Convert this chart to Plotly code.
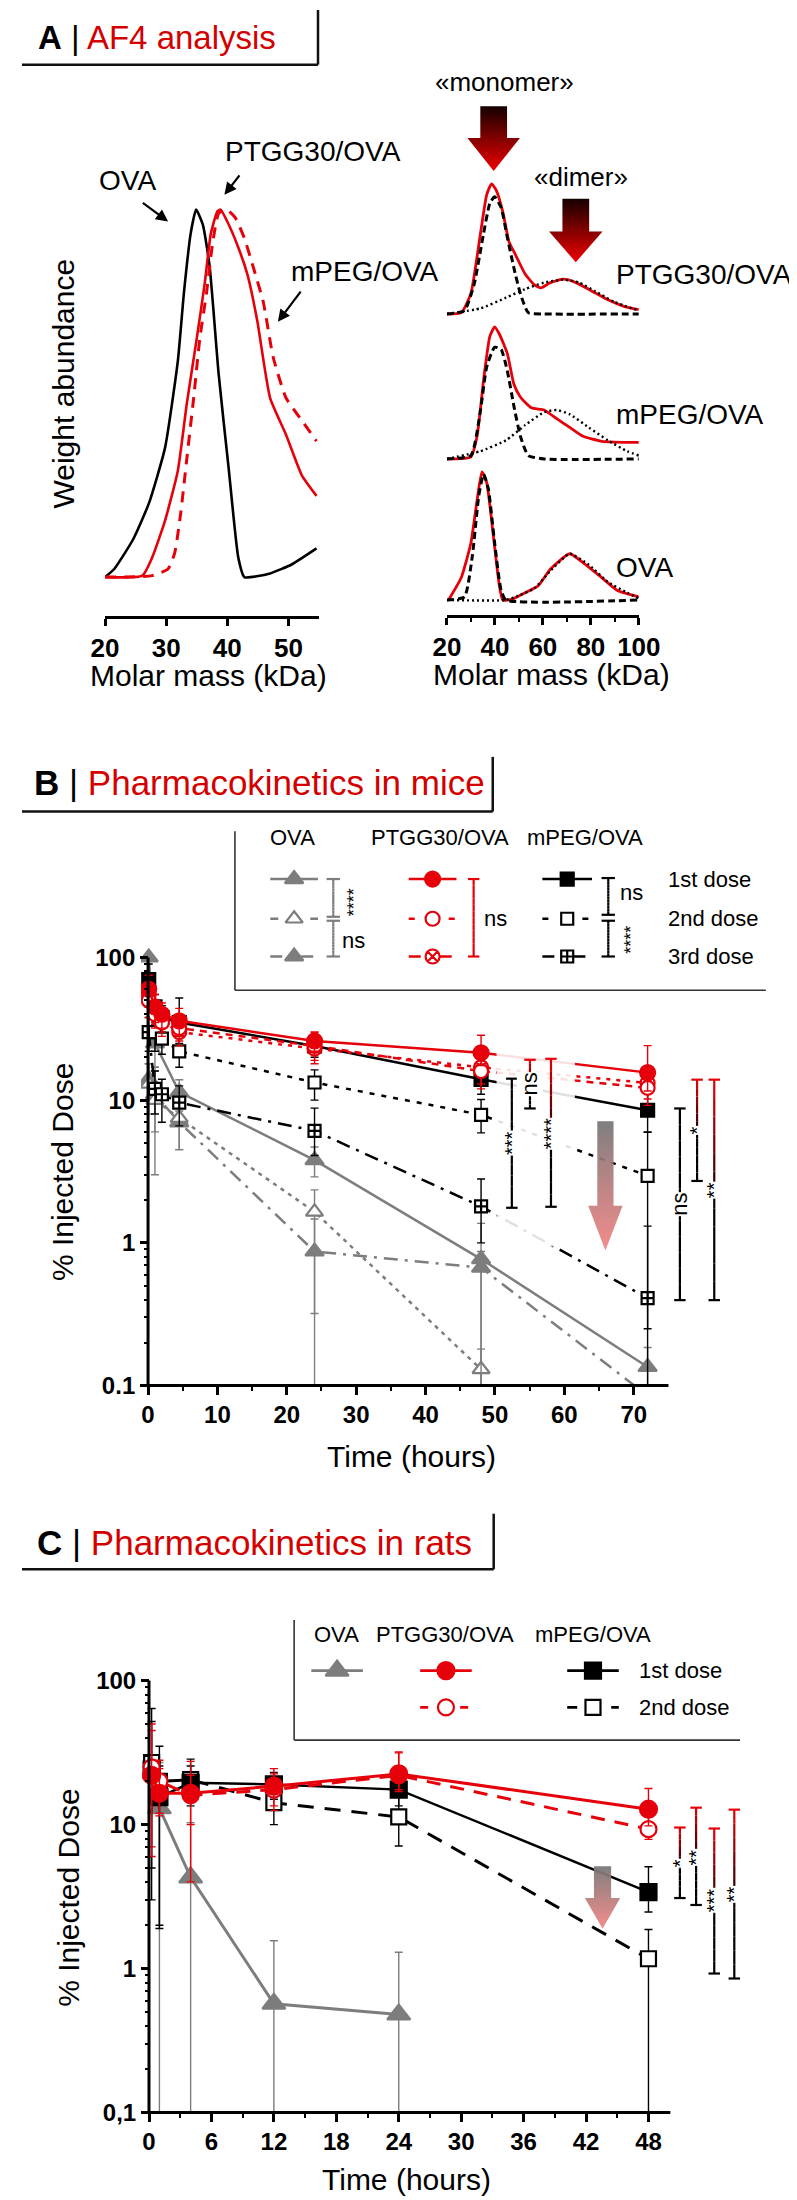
import plotly.graph_objects as go

W, H = 797, 2200
FONT = "Liberation Sans, Arial, Helvetica, sans-serif"
RED = "#e6000a"
TRED = "#d40000"
GRAY = "#7d7d7d"
BLK = "#000000"

# ---------------- Panel A (left): AF4 profiles, normalised weight abundance ----------------
a_ova_mass = [20, 21.5, 24.6, 27.2, 29.8, 31.9, 32.9, 34.0, 34.9, 36.0, 37.1, 38.6, 40.2, 41.8, 42.8, 47.0, 50.6, 54.6]
a_ova_w = [0, 0.022, 0.103, 0.202, 0.351, 0.587, 0.773, 0.934, 1.0, 0.959, 0.847, 0.55, 0.30, 0.053, 0.0, 0.01, 0.035, 0.078]
a_ptgg_mass = [20, 26.1, 27.7, 29.8, 31.9, 33.4, 35.0, 36.3, 37.3, 38.4, 38.9, 39.9, 41.8, 43.3, 44.9, 47.0, 49.6, 52.2, 54.6]
a_ptgg_w = [0, 0.004, 0.053, 0.153, 0.289, 0.475, 0.649, 0.798, 0.934, 0.996, 1.0, 0.971, 0.897, 0.823, 0.698, 0.488, 0.388, 0.277, 0.221]
a_mpeg_mass = [20, 27.7, 30.3, 31.4, 32.4, 33.4, 34.5, 35.5, 36.6, 37.6, 38.6, 39.9, 41.3, 42.8, 44.4, 45.9, 47.5, 49.6, 52.2, 54.6]
a_mpeg_w = [0, 0.004, 0.022, 0.066, 0.177, 0.326, 0.488, 0.649, 0.773, 0.909, 0.99, 1.0, 0.978, 0.922, 0.835, 0.748, 0.599, 0.488, 0.426, 0.370]

# ---------------- Panel A (right): measured profile + monomer / dimer fits ----------------
ap_red_x = [20, 26, 30, 34, 36.6, 38.6, 40.6, 43.3, 45.9, 48.6, 52.6, 56.5, 59.2, 63.2, 68.5, 73.8, 80.5, 87.1, 93.8, 100]
ap_red_y = [0, 0.01, 0.158, 0.62, 0.917, 1.0, 0.95, 0.785, 0.554, 0.455, 0.307, 0.224, 0.201, 0.241, 0.267, 0.241, 0.175, 0.109, 0.059, 0.033]
ap_mono_x = [20, 27.3, 31.3, 35.3, 37.9, 39.9, 42.6, 45.2, 47.9, 50.6, 53.9, 60.5, 100]
ap_mono_y = [0, 0.026, 0.224, 0.62, 0.851, 0.90, 0.818, 0.587, 0.356, 0.158, 0.01, 0, 0]
ap_dim_x = [20, 34, 44.6, 52.6, 60.5, 68.5, 75.1, 81.8, 89.8, 100]
ap_dim_y = [0, 0.043, 0.125, 0.191, 0.241, 0.264, 0.241, 0.175, 0.092, 0.026]

am_red_x = [20, 30, 32.6, 35.3, 37.9, 39.9, 41.9, 45.2, 47.9, 50.6, 55.2, 60.5, 65.8, 71.2, 76.5, 84.5, 100]
am_red_y = [0, 0.016, 0.174, 0.6, 0.928, 1.0, 0.944, 0.797, 0.567, 0.469, 0.387, 0.371, 0.305, 0.239, 0.174, 0.134, 0.125]
am_mono_x = [20, 30, 34, 36.6, 39.9, 42.6, 45.2, 47.9, 50.6, 53.9, 60.5, 100]
am_mono_y = [0, 0.026, 0.37, 0.698, 0.846, 0.829, 0.665, 0.403, 0.174, 0.026, 0, 0]
am_dim_x = [20, 34, 44.6, 52.6, 60.5, 65.8, 71.2, 79.1, 87.1, 95.1, 100]
am_dim_y = [0, 0.059, 0.141, 0.256, 0.354, 0.371, 0.338, 0.239, 0.141, 0.059, 0.026]

ao_red_x = [20.7, 26, 30, 32.6, 34.6, 36.6, 39.3, 41.9, 43.3, 47.2, 52.6, 57.9, 63.2, 71.2, 77.8, 84.5, 91.1, 100]
ao_red_y = [0, 0.175, 0.445, 0.781, 1.0, 0.916, 0.512, 0.108, 0, 0.007, 0.057, 0.108, 0.242, 0.361, 0.276, 0.175, 0.074, 0.024]
ao_mono_x = [20, 27.3, 30.6, 33.3, 35.3, 37.3, 39.9, 42.6, 44.6, 100]
ao_mono_y = [0, 0.024, 0.343, 0.815, 0.983, 0.865, 0.444, 0.074, 0, 0]
ao_dim_x = [20, 44.6, 49.9, 56.5, 63.2, 71.2, 79.1, 87.1, 95.1, 100]
ao_dim_y = [0, 0, 0.034, 0.091, 0.229, 0.361, 0.276, 0.141, 0.057, 0.013]

# ---------------- Panel B: pharmacokinetics in mice (% injected dose) ----------------
b_time = [0.1, 1, 2, 4.5, 24, 48, 72]
b_ova1_t = [0.1, 1, 4.5, 24, 48, 72]
b_ova1 = [100, 25, 11.4, 3.8, 0.77, 0.135]
b_ova1_ep = [0, 8, 2.5, 0.9, 0.6, 0.05]
b_ova1_em = [0, 8, 3, 0.9, 0.77, 0.05]
b_ova2_t = [0.1, 1, 4.5, 24, 48]
b_ova2 = [13, 10, 7.5, 1.65, 0.13]
b_ova2_ep = [5, 7, 3, 0.7, 0.05]
b_ova2_em = [5, 7, 3, 1.65, 0.03]
b_ova3_t = [0.1, 1, 4.5, 24, 48, 72]
b_ova3 = [14, 11, 7.0, 0.87, 0.67, 0.085]
b_ova3_ep = [4, 5, 2.5, 0.6, 0.2, 0]
b_ova3_em = [4, 5, 2.5, 0.55, 0.67, 0]
b_ptgg1 = [60, 45, 40, 36, 26, 21.5, 15.6]
b_ptgg1_ep = [15, 10, 8, 8, 4, 7, 8.5]
b_ptgg1_em = [15, 10, 8, 8, 4, 4, 4]
b_ptgg2 = [50, 40, 35, 32, 24, 16, 12.2]
b_ptgg2_e = [12, 8, 7, 6, 6, 4, 3]
b_ptgg3 = [55, 42, 36, 30, 23, 17, 13.2]
b_ptgg3_e = [10, 8, 6, 6, 4, 4, 3]
b_mpeg1 = [70, 45, 38, 35, 24, 14, 8.5]
b_mpeg1_ep = [20, 10, 8, 17, 4, 3, 6]
b_mpeg1_em = [20, 10, 8, 10, 4, 3, 2.5]
b_mpeg2 = [55, 30, 27, 22, 13.3, 7.9, 2.95]
b_mpeg2_ep = [10, 8, 6, 5, 3, 2.2, 3.0]
b_mpeg2_em = [10, 8, 6, 5, 3.3, 2.0, 2.95]
b_mpeg3 = [30, 12, 11, 9.6, 6.1, 1.8, 0.41]
b_mpeg3_ep = [8, 4, 3, 3, 2.7, 1.0, 0.9]
b_mpeg3_em = [8, 4, 4, 3, 2.0, 0.8, 0.16]
b_xticks = [0, 10, 20, 30, 40, 50, 60, 70]
b_yticks = [0.1, 1, 10, 100]
b_yticktext = ["0.1", "1", "10", "100"]

# ---------------- Panel C: pharmacokinetics in rats ----------------
c_time = [0.25, 1, 4, 12, 24, 48]
c_ova_t = [1, 4, 12, 24]
c_ova = [13, 4.3, 0.57, 0.48]
c_ova_ep = [14, 6, 0.99, 0.82]
c_ova_em = [13, 4.3, 0.57, 0.48]
c_ptgg1 = [22, 16.5, 16.5, 18.5, 22.5, 12.8]
c_ptgg1_ep = [28, 8, 11, 6, 9, 5]
c_ptgg1_em = [16, 5, 12.5, 5, 5, 3]
c_ptgg2 = [25, 20, 16, 17.5, 22, 9.3]
c_ptgg2_ep = [20, 8, 6, 5, 10, 3]
c_ptgg2_em = [18, 8, 6, 5, 5, 1.4]
c_mpeg1 = [24, 15.5, 19.5, 19, 17.5, 3.4]
c_mpeg1_ep = [40, 10, 6, 4, 8, 1.7]
c_mpeg1_em = [21, 13.6, 6, 4, 4, 0.93]
c_mpeg2 = [27, 20, 20.5, 14.2, 11.3, 1.17]
c_mpeg2_ep = [25, 15, 8, 4, 5, 0.7]
c_mpeg2_em = [22, 18, 6, 4.2, 4.2, 1.17]
c_xticks = [0, 6, 12, 18, 24, 30, 36, 42, 48]
c_yticks = [0.1, 1, 10, 100]
c_yticktext = ["0,1", "1", "10", "100"]


def fx(p):
    return p / W


def fy(p):
    return 1 - p / H


fig = go.Figure()

# ---------- Panel A traces ----------
SM = dict(shape="spline", smoothing=0.5)
fig.add_trace(go.Scatter(x=a_ova_mass, y=a_ova_w, mode="lines", xaxis="x", yaxis="y",
                         line=dict(color=BLK, width=2.6, **SM)))
fig.add_trace(go.Scatter(x=a_mpeg_mass, y=a_mpeg_w, mode="lines", xaxis="x", yaxis="y",
                         line=dict(color=RED, width=3, dash="11px,8px", **SM)))
fig.add_trace(go.Scatter(x=a_ptgg_mass, y=a_ptgg_w, mode="lines", xaxis="x", yaxis="y",
                         line=dict(color=RED, width=2.6, **SM)))

for (rx, ry, mx, my, dx, dy, ya) in [
    (ap_red_x, ap_red_y, ap_mono_x, ap_mono_y, ap_dim_x, ap_dim_y, "y2"),
    (am_red_x, am_red_y, am_mono_x, am_mono_y, am_dim_x, am_dim_y, "y3"),
    (ao_red_x, ao_red_y, ao_mono_x, ao_mono_y, ao_dim_x, ao_dim_y, "y4"),
]:
    fig.add_trace(go.Scatter(x=rx, y=ry, mode="lines", xaxis="x2", yaxis=ya,
                             line=dict(color=RED, width=2.8, **SM)))
    fig.add_trace(go.Scatter(x=mx, y=my, mode="lines", xaxis="x2", yaxis=ya,
                             line=dict(color=BLK, width=3, dash="7px,4px", **SM)))
    fig.add_trace(go.Scatter(x=dx, y=dy, mode="lines", xaxis="x2", yaxis=ya,
                             line=dict(color=BLK, width=2.4, dash="2px,3px", **SM)))


def pk(t, v, ep, em, color, dash, symbol, fill, size, xa, ya, lw=2.5):
    fig.add_trace(go.Scatter(
        x=t, y=v, mode="lines+markers", xaxis=xa, yaxis=ya,
        line=dict(color=color, width=lw, dash=dash),
        marker=dict(symbol=symbol, size=size, color=fill,
                    line=dict(color=color, width=2.2)),
        error_y=dict(type="data", array=ep, arrayminus=em, color=color,
                     thickness=1.4, width=4),
    ))


DOT = "5px,7px"
DASHDOT = "14px,7px,3px,7px"

# ---------- Panel B traces ----------
pk(b_ova3_t, b_ova3, b_ova3_ep, b_ova3_em, GRAY, DASHDOT, "triangle-up", GRAY, 16, "x3", "y5")
pk(b_ova2_t, b_ova2, b_ova2_ep, b_ova2_em, GRAY, "4px,5px", "triangle-up", "white", 15, "x3", "y5")
pk(b_ova1_t, b_ova1, b_ova1_ep, b_ova1_em, GRAY, "solid", "triangle-up", GRAY, 16, "x3", "y5")
pk(b_time, b_mpeg3, b_mpeg3_ep, b_mpeg3_em, BLK, DASHDOT, "square-cross", "white", 12, "x3", "y5")
pk(b_time, b_mpeg2, b_mpeg2_ep, b_mpeg2_em, BLK, DOT, "square", "white", 12, "x3", "y5")
pk(b_time, b_mpeg1, b_mpeg1_ep, b_mpeg1_em, BLK, "solid", "square", BLK, 13, "x3", "y5")
pk(b_time, b_ptgg3, b_ptgg3_e, b_ptgg3_e, RED, "4px,6px", "circle-x", "white", 14, "x3", "y5")
pk(b_time, b_ptgg2, b_ptgg2_e, b_ptgg2_e, RED, "7px,6px", "circle", "white", 14, "x3", "y5")
pk(b_time, b_ptgg1, b_ptgg1_ep, b_ptgg1_em, RED, "solid", "circle", RED, 15, "x3", "y5")

# ---------- Panel C traces ----------
pk(c_ova_t, c_ova, c_ova_ep, c_ova_em, GRAY, "solid", "triangle-up", GRAY, 20, "x4", "y6", lw=3)
pk(c_time, c_mpeg2, c_mpeg2_ep, c_mpeg2_em, BLK, "16px,11px", "square", "white", 15, "x4", "y6", lw=3)
pk(c_time, c_mpeg1, c_mpeg1_ep, c_mpeg1_em, BLK, "solid", "square", BLK, 16, "x4", "y6")
pk(c_time, c_ptgg2, c_ptgg2_ep, c_ptgg2_em, RED, "14px,10px", "circle", "white", 16, "x4", "y6", lw=3)
pk(c_time, c_ptgg1, c_ptgg1_ep, c_ptgg1_em, RED, "solid", "circle", RED, 17, "x4", "y6", lw=3)

# ---------- decorations on a full-page pixel overlay (x5 / y7) ----------
OV = dict(xaxis="x5", yaxis="y7", hoverinfo="skip")


def arrow(xc, y0, yh, ytip, sw, hw, ctop, cbot):
    xs = [xc - sw / 2, xc + sw / 2, xc + sw / 2, xc + hw / 2, xc, xc - hw / 2, xc - sw / 2, xc - sw / 2]
    ys = [y0, y0, yh, yh, ytip, yh, yh, y0]
    fig.add_trace(go.Scatter(x=xs, y=ys, mode="lines", fill="toself",
                             line=dict(width=0, color="rgba(0,0,0,0)"),
                             fillgradient=dict(type="vertical", colorscale=[[0, cbot], [1, ctop]]),
                             **OV))


arrow(494, 97, 129, 162, 28, 55, "#150000", "#f00000")
arrow(580, 190, 223, 254, 28, 56, "#150000", "#f00000")
arrow(611, 1119, 1204, 1249, 17, 36, "rgba(120,120,120,0.95)", "rgba(240,120,120,0.85)")
arrow(608, 1869, 1901, 1932, 18, 37, "rgba(120,120,120,0.95)", "rgba(240,120,120,0.85)")


def glyph(cx, cy, half, color, dash, symbol, fill, size):
    fig.add_trace(go.Scatter(x=[cx - half, cx + half], y=[cy, cy], mode="lines",
                             line=dict(color=color, width=2.6, dash=dash), **OV))
    fig.add_trace(go.Scatter(x=[cx], y=[cy], mode="markers",
                             marker=dict(symbol=symbol, size=size, color=fill,
                                         line=dict(color=color, width=2.2)), **OV))


# legend B
glyph(285, 875, 25, GRAY, "solid", "triangle-up", GRAY, 16)
glyph(285, 915, 25, GRAY, "8px,12px", "triangle-up", "white", 15)
glyph(285, 953, 25, GRAY, "12px,8px,3px,8px", "triangle-up", GRAY, 16)
glyph(430, 875, 25, RED, "solid", "circle", RED, 15)
glyph(430, 915, 25, RED, "6px,14px", "circle", "white", 14)
glyph(430, 953, 25, RED, "12px,8px,3px,8px", "circle-x", "white", 14)
glyph(571, 875, 26, BLK, "solid", "square", BLK, 13)
glyph(571, 915, 26, BLK, "6px,14px", "square", "white", 12)
glyph(571, 953, 26, BLK, "12px,8px,3px,8px", "square-cross", "white", 12)
# legend C
glyph(330, 1672, 27, GRAY, "solid", "triangle-up", GRAY, 20)
glyph(444, 1672, 27, RED, "solid", "circle", RED, 17)
glyph(444, 1709, 27, RED, "8px,12px", "circle", "white", 16)
glyph(598, 1672, 27, BLK, "solid", "square", BLK, 16)
glyph(598, 1709, 27, BLK, "10px,12px", "square", "white", 15)

# ---------- shapes ----------
shapes = []


def seg(x0, y0, x1, y1, color, w=2.2):
    shapes.append(dict(type="line", xref="x5", yref="y7", x0=x0, y0=y0, x1=x1, y1=y1,
                       line=dict(color=color, width=w), layer="above"))


def hex2rgb(h):
    h = h.lstrip("#")
    return tuple(int(h[i:i + 2], 16) for i in (0, 2, 4))


def mix(c1, c2, t):
    a, b = hex2rgb(c1), hex2rgb(c2)
    return "rgb(%d,%d,%d)" % tuple(round(a[i] + (b[i] - a[i]) * t) for i in range(3))


def bracket(x, yt, yb, ctop, cbot, cap=6, w=2.2, n=12):
    for i in range(n):
        y0 = yt + (yb - yt) * i / n
        y1 = yt + (yb - yt) * (i + 1) / n
        t = min(1.0, ((i + 0.5) / n) * 1.7)
        seg(x, y0, x, y1, mix(ctop, cbot, t), w)
    seg(x - cap, yt, x + cap, yt, ctop, w)
    seg(x - cap, yb, x + cap, yb, cbot, w)


# header boxes
for (xr, yt, yb) in [(310, 0, 55), (493, 752, 807), (494, 1514, 1570)]:
    seg(0, yb, xr, yb, "#111111", 2.5)
    seg(xr, yt, xr, yb, "#111111", 2.5)

# legend frames
seg(223, 827, 223, 987, "#333333", 1.6)
seg(223, 987, 779, 987, "#333333", 1.6)
seg(285, 1621, 285, 1742, "#333333", 1.6)
seg(285, 1742, 752, 1742, "#333333", 1.6)

# axis lines for B and C
seg(132, 1385, 677, 1385, BLK, 3)
seg(132, 1385, 132, 954, BLK, 3)
seg(133, 2117, 679, 2117, BLK, 3)
seg(133, 2117, 133, 1682, BLK, 3)

# white veil behind the significance brackets of B
shapes.append(dict(type="rect", xref="x5", yref="y7", x0=497, x1=579, y0=1040, y1=1245,
                   fillcolor="rgba(255,255,255,0.88)", line=dict(width=0), layer="above"))

# legend brackets B
bracket(326, 875, 913, GRAY, GRAY, cap=7)
bracket(326, 917, 953, GRAY, GRAY, cap=7)
bracket(473, 875, 953, RED, RED, cap=6)
bracket(614, 874, 911, BLK, BLK, cap=7)
bracket(614, 917, 953, BLK, BLK, cap=7)

# significance brackets B
b_brackets = [(513, 1076, 1206, BLK), (532, 1057, 1106, RED), (554, 1056, 1205, RED),
              (689, 1106, 1299, BLK), (707, 1077, 1179, RED), (725, 1077, 1299, RED)]
for (x, yt, yb, ct) in b_brackets:
    bracket(x, yt, yb, ct, BLK)
# significance brackets C
c_brackets = [(689, 1830, 1901), (706, 1810, 1908), (725, 1831, 1977), (746, 1812, 1982)]
for (x, yt, yb) in c_brackets:
    bracket(x, yt, yb, RED, BLK)

# ---------- annotations ----------
ann = []


def text(x, y, s, size, color=BLK, xanchor="center", angle=0, bg=None, weight="normal"):
    d = dict(x=x, y=y, xref="x5", yref="y7", text=s, showarrow=False, xanchor=xanchor,
             yanchor="middle", textangle=angle,
             font=dict(family=FONT, size=size, color=color, weight=weight))
    if bg:
        d["bgcolor"] = bg
        d["borderpad"] = 0
    ann.append(d)


def harrow(tx, ty, hx, hy):
    ann.append(dict(x=hx, y=hy, ax=tx, ay=ty, xref="x5", yref="y7", axref="x5", ayref="y7",
                    text="", showarrow=True, arrowhead=2, arrowsize=1.1, arrowwidth=2.2,
                    arrowcolor=BLK))


# headers
text(15, 28, "<b>A</b> | <span style='color:%s'>AF4 analysis</span>" % TRED, 33, xanchor="left")
text(10, 778, "<b>B</b> | <span style='color:%s'>Pharmacokinetics in mice</span>" % TRED, 35, xanchor="left")
text(14, 1543, "<b>C</b> | <span style='color:%s'>Pharmacokinetics in rats</span>" % TRED, 35, xanchor="left")

# panel A texts
text(43, 376, "Weight abundance", 30, angle=-90)
text(195, 670, "Molar mass (kDa)", 30)
text(555, 669, "Molar mass (kDa)", 30)
text(110, 172, "OVA", 28)
text(305, 142, "PTGG30/OVA", 28)
text(280, 263, "mPEG/OVA", 28, xanchor="left")
harrow(125, 193, 153, 213)
harrow(229, 165, 212, 186)
harrow(293, 282, 268, 314)
text(620, 266, "PTGG30/OVA", 28, xanchor="left")
text(620, 407, "mPEG/OVA", 28, xanchor="left")
text(620, 561, "OVA", 28, xanchor="left")
text(505, 72, "«monomer»", 26)
text(585, 168, "«dimer»", 26)

# panel B texts
text(42, 1170, "% Injected Dose", 30, angle=-90)
text(408, 1456, "Time (hours)", 30)
text(283, 833, "OVA", 22)
text(438, 833, "PTGG30/OVA", 22)
text(590, 833, "mPEG/OVA", 22)
text(674, 875, "1st dose", 22, xanchor="left")
text(674, 915, "2nd dose", 22, xanchor="left")
text(674, 953, "3rd dose", 22, xanchor="left")
text(348, 898, "****", 18, angle=-90)
text(347, 937, "ns", 22)
text(496, 915, "ns", 22)
text(638, 889, "ns", 22)
text(637, 936, "****", 18, angle=-90)
for (x, y, s) in [(513, 1141, "***"), (532, 1081, "ns"), (554, 1131, "****"),
                  (689, 1202, "ns"), (707, 1128, "*"), (725, 1188, "**")]:
    text(x, y, s, 20 if "*" in s else 22, angle=-90, bg="white")

# panel C texts
text(48, 1901, "% Injected Dose", 30, angle=-90)
text(403, 2184, "Time (hours)", 30)
text(329, 1636, "OVA", 22)
text(443, 1636, "PTGG30/OVA", 22)
text(598, 1636, "mPEG/OVA", 22)
text(644, 1672, "1st dose", 22, xanchor="left")
text(644, 1709, "2nd dose", 22, xanchor="left")
for (x, y, s) in [(689, 1866, "*"), (706, 1860, "**"), (725, 1903, "***"), (746, 1897, "**")]:
    text(x, y, s, 20, angle=-90, bg="white")

# ---------- axes ----------
TF = dict(family=FONT, size=26, color=BLK, weight="bold")
TF2 = dict(family=FONT, size=24, color=BLK, weight="bold")
axis_common = dict(showgrid=False, zeroline=False, ticks="outside", tickcolor=BLK,
                   fixedrange=True)

layout = dict(
    width=W, height=H, margin=dict(l=0, r=0, t=0, b=0),
    paper_bgcolor="white", plot_bgcolor="rgba(0,0,0,0)",
    showlegend=False, hovermode=False,
    font=dict(family=FONT, color=BLK),
    shapes=shapes, annotations=ann,
    # A left
    xaxis=dict(domain=[fx(87), fx(311)], range=[20, 55], anchor="free", position=fy(611),
               showline=True, linecolor=BLK, linewidth=2.6, ticklen=7, tickwidth=2.5,
               tickvals=[20, 30, 40, 50], tickfont=TF, **axis_common),
    yaxis=dict(domain=[fy(589.5), fy(182.5)], range=[-0.05, 1.05], visible=False,
               anchor="x", fixedrange=True),
    # A right
    xaxis2=dict(domain=[fx(445), fx(646)], range=[20, 100], anchor="free", position=fy(610),
                showline=True, linecolor=BLK, linewidth=2.6, ticklen=7, tickwidth=2.5,
                tickvals=[20, 40, 60, 80, 100], tickfont=TF,
                minor=dict(tickvals=[30, 50, 70, 90], ticks="outside", ticklen=4,
                           tickwidth=2, tickcolor=BLK),
                **axis_common),
    yaxis2=dict(domain=[fy(312.6), fy(168.5)], range=[-0.05, 1.05], visible=False,
                anchor="x2", fixedrange=True),
    yaxis3=dict(domain=[fy(458.7), fy(312.4)], range=[-0.05, 1.05], visible=False,
                anchor="x2", fixedrange=True),
    yaxis4=dict(domain=[fy(600.5), fy(458.6)], range=[-0.05, 1.05], visible=False,
                anchor="x2", fixedrange=True),
    # B
    xaxis3=dict(domain=[fx(124.7), fx(677)], range=[-1, 75], anchor="y5", showline=False,
                ticklen=8, tickwidth=2.5, tickvals=b_xticks, tickfont=TF2,
                minor=dict(tickvals=[5, 15, 25, 35, 45, 55, 65], ticks="outside", ticklen=4,
                           tickwidth=2, tickcolor=BLK),
                **axis_common),
    yaxis5=dict(type="log", domain=[fy(1385), fy(942.5)], range=[-1, 2.08], anchor="free",
                position=fx(132), showline=False, ticklen=8, tickwidth=2.5,
                tickvals=b_yticks, ticktext=b_yticktext, tickfont=TF2,
                minor=dict(tickvals=[0.2, 0.3, 0.4, 0.5, 0.6, 0.7, 0.8, 0.9, 2, 3, 4, 5, 6, 7, 8, 9,
                                     20, 30, 40, 50, 60, 70, 80, 90],
                           ticks="outside", ticklen=4, tickwidth=1.6, tickcolor=BLK),
                **axis_common),
    # C
    xaxis4=dict(domain=[fx(124.3), fx(679)], range=[-0.8, 50.1], anchor="y6", showline=False,
                ticklen=8, tickwidth=2.5, tickvals=c_xticks, tickfont=TF2,
                minor=dict(tickvals=[3, 9, 15, 21, 27, 33, 39, 45], ticks="outside", ticklen=4,
                           tickwidth=2, tickcolor=BLK),
                **axis_common),
    yaxis6=dict(type="log", domain=[fy(2117), fy(1670.5)], range=[-1, 2.08], anchor="free",
                position=fx(133), showline=False, ticklen=8, tickwidth=2.5,
                tickvals=c_yticks, ticktext=c_yticktext, tickfont=TF2,
                minor=dict(tickvals=[0.2, 0.3, 0.4, 0.5, 0.6, 0.7, 0.8, 0.9, 2, 3, 4, 5, 6, 7, 8, 9,
                                     20, 30, 40, 50, 60, 70, 80, 90],
                           ticks="outside", ticklen=4, tickwidth=1.6, tickcolor=BLK),
                **axis_common),
    # overlay in page pixels
    xaxis5=dict(domain=[0, 1], range=[0, W], visible=False, anchor="y7", fixedrange=True),
    yaxis7=dict(domain=[0, 1], range=[H, 0], visible=False, anchor="x5", fixedrange=True),
)
fig.update_layout(**layout)
fig.write_html("out.html")
